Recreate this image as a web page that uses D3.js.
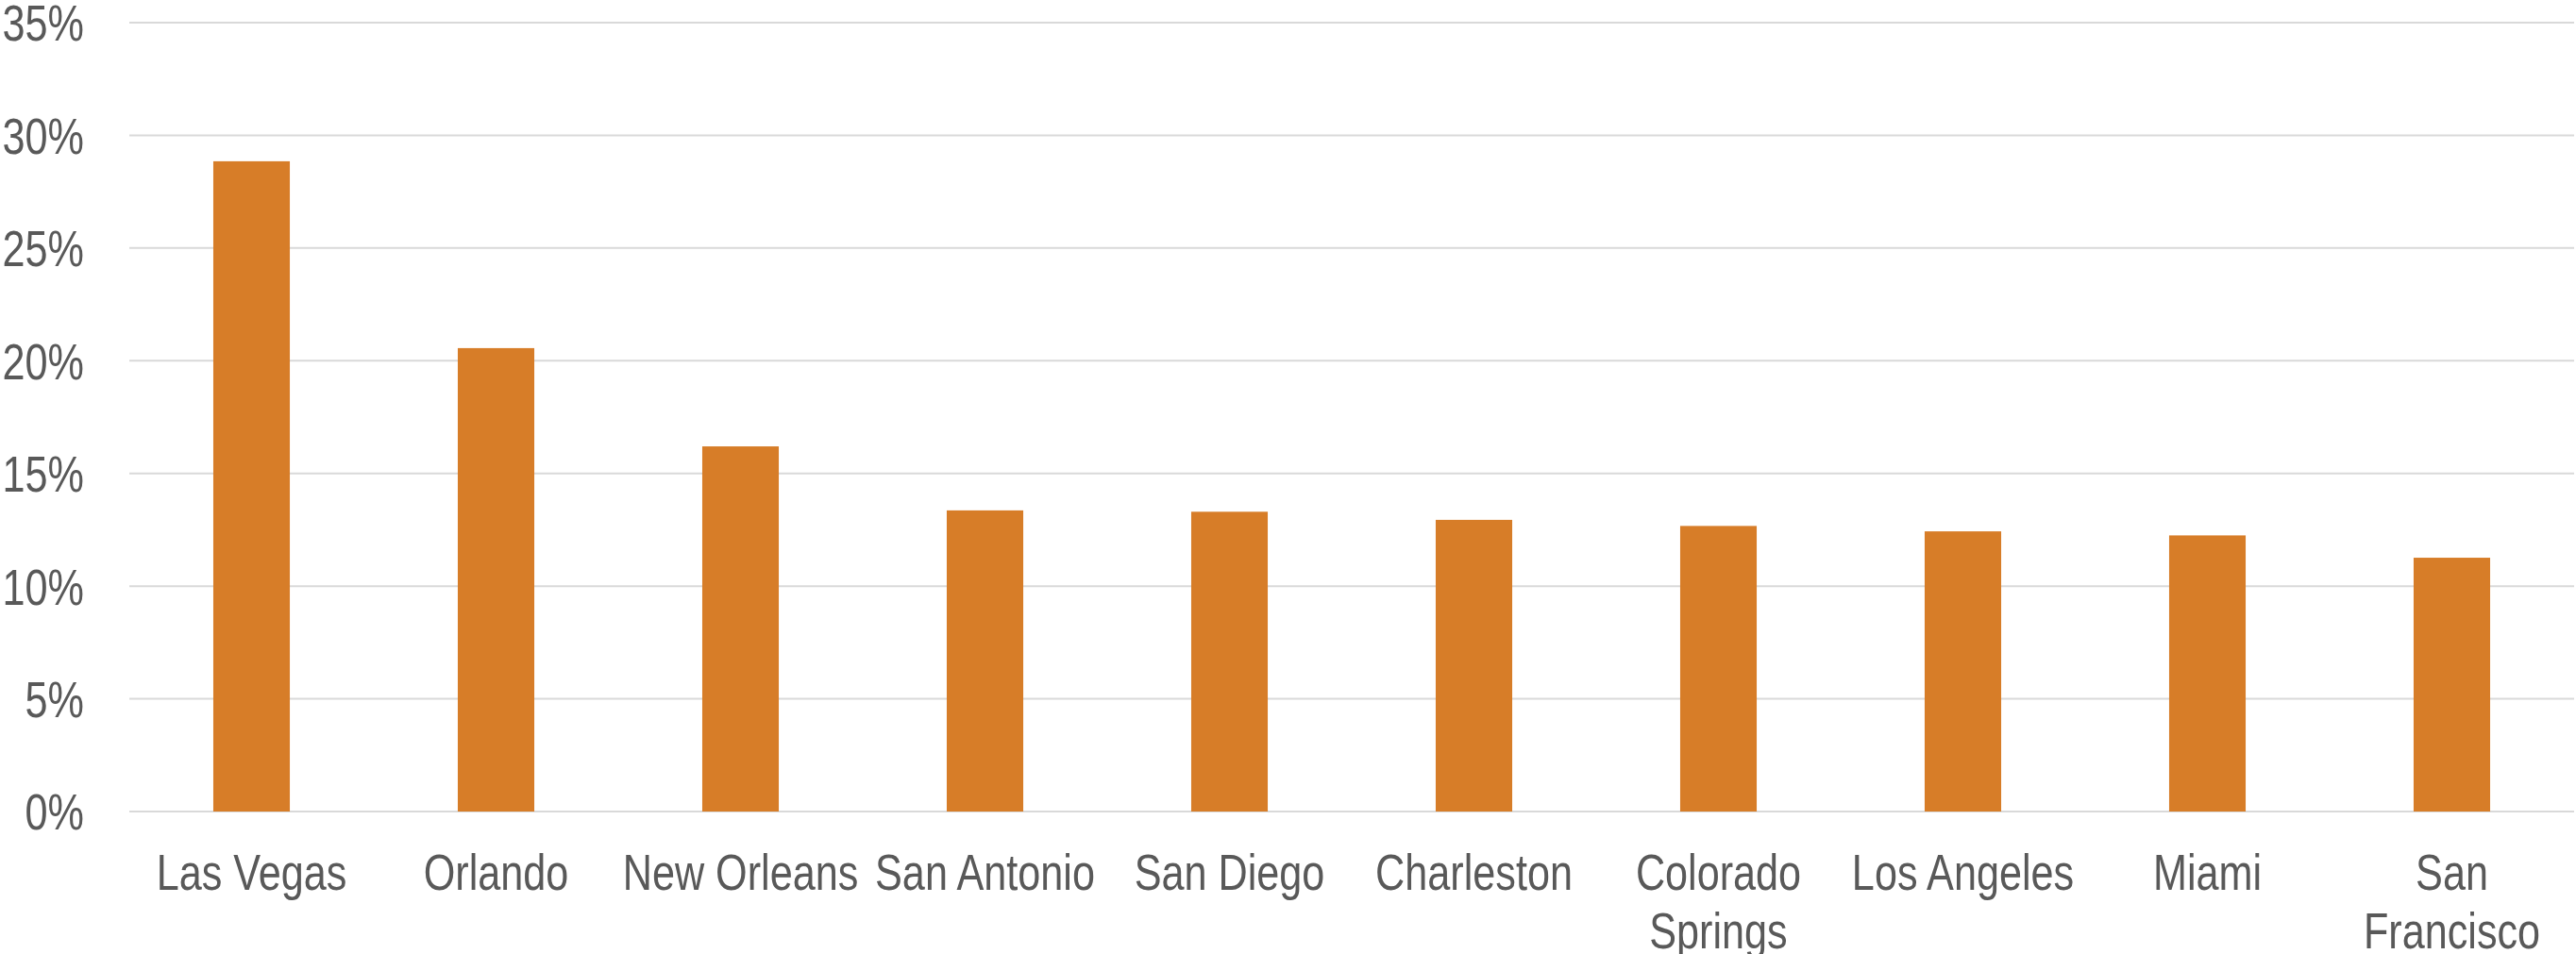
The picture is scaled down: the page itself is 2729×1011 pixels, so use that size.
<!DOCTYPE html>
<html>
<head>
<meta charset="utf-8">
<script src="https://cdn.jsdelivr.net/npm/d3@7"></script>
<style>
  html, body { margin: 0; padding: 0; background: #ffffff; }
  svg { display: block; }
  text { font-family: "Liberation Sans", Arial, sans-serif; fill: #595959; }
</style>
</head>
<body>
<svg id="chart" width="2729" height="1011"></svg>
<script>
// Share of visitors by city (percent)
const cities = ["Las Vegas", "Orlando", "New Orleans", "San Antonio", "San Diego",
                "Charleston", "Colorado Springs", "Los Angeles", "Miami", "San Francisco"];
const shares = [28.85, 20.56, 16.2, 13.36, 13.3, 12.94, 12.67, 12.43, 12.25, 11.26];
// category labels as they are broken onto lines
const cityLines = [["Las Vegas"], ["Orlando"], ["New Orleans"], ["San Antonio"], ["San Diego"],
                   ["Charleston"], ["Colorado", "Springs"], ["Los Angeles"], ["Miami"], ["San", "Francisco"]];
const yTicks = [0, 5, 10, 15, 20, 25, 30, 35];

const W = 2729, H = 1011;
const margin = { left: 137, right: 2, top: 24, bottom: 151 };
const fontSize = 54;
const squeeze = 0.8;   // horizontal compression of the label glyphs

const svg = d3.select("#chart");

const x = d3.scaleBand()
  .domain(cities)
  .range([margin.left, W - margin.right])
  .paddingInner(0.687)
  .paddingOuter(0.3435);

const y = d3.scaleLinear()
  .domain([0, 35])
  .range([H - margin.bottom, margin.top]);

// horizontal gridlines
svg.append("g")
  .selectAll("line")
  .data(yTicks)
  .join("line")
  .attr("x1", margin.left)
  .attr("x2", W - margin.right)
  .attr("y1", d => y(d))
  .attr("y2", d => y(d))
  .attr("stroke", "#d9d9d9")
  .attr("stroke-width", 2);

// y tick labels
svg.append("g")
  .selectAll("text")
  .data(yTicks)
  .join("text")
  .attr("transform", d => `translate(89,${y(d)}) scale(${squeeze},1)`)
  .attr("text-anchor", "end")
  .attr("dy", "0.36em")
  .attr("font-size", fontSize)
  .text(d => d + "%");

// bars
svg.append("g")
  .selectAll("rect")
  .data(cities)
  .join("rect")
  .attr("x", d => x(d))
  .attr("width", x.bandwidth())
  .attr("y", (d, i) => y(shares[i]))
  .attr("height", (d, i) => y(0) - y(shares[i]))
  .attr("fill", "#d77d28");

// category labels
svg.append("g")
  .selectAll("text")
  .data(cities)
  .join("text")
  .attr("transform", d => `translate(${x(d) + x.bandwidth() / 2},943) scale(${squeeze},1)`)
  .attr("text-anchor", "middle")
  .attr("font-size", fontSize)
  .each(function(d, i) {
    d3.select(this)
      .selectAll("tspan")
      .data(cityLines[i])
      .join("tspan")
      .attr("x", 0)
      .attr("dy", (line, k) => (k === 0 ? 0 : 62))
      .text(line => line);
  });
</script>
</body>
</html>
